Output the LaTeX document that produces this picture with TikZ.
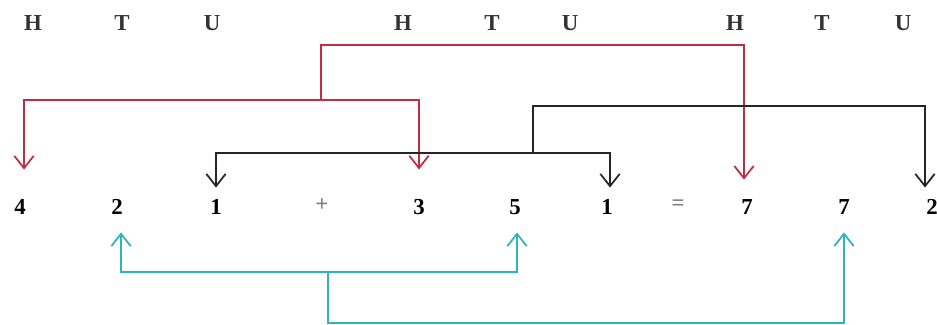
\documentclass[tikz,border=0pt]{standalone}
\usepackage{fontspec}
\setmainfont{Liberation Serif}
\usetikzlibrary{arrows.meta}
\definecolor{carryred}{RGB}{190,45,65}
\definecolor{carrycyan}{RGB}{45,180,190}

\begin{document}
\begin{tikzpicture}[>={Straight Barb[length=7pt,width=11pt]}, scale=1.0,
    place/.style={font=\fontsize{13}{15}\selectfont\bfseries, text=black!80},
    digit/.style={font=\fontsize{13}{15}\selectfont\bfseries, inner sep=0pt},
    sign/.style={font=\fontsize{13}{15}\selectfont\bfseries, text=black!50, inner sep=0pt},
    redline/.style={draw=carryred, line width=1pt},
    blackline/.style={draw=black!85, line width=1pt},
    cyanline/.style={draw=carrycyan, line width=1pt}]
  \useasboundingbox (0,0) rectangle (18.74,6.5);
  % place-value headings
  \node[place] (hdLH) at (0.66,6.04) {H};
  \node[place] (hdLT) at (2.44,6.04) {T};
  \node[place] (hdLU) at (4.24,6.04) {U};
  \node[place] (hdMH) at (8.06,6.04) {H};
  \node[place] (hdMT) at (9.84,6.04) {T};
  \node[place] (hdMU) at (11.40,6.04) {U};
  \node[place] (hdRH) at (14.70,6.04) {H};
  \node[place] (hdRT) at (16.44,6.04) {T};
  \node[place] (hdRU) at (18.06,6.04) {U};
  % the sum
  \node[digit] (lh) at (0.40,2.36) {4};
  \node[digit] (lt) at (2.34,2.36) {2};
  \node[digit] (lu) at (4.32,2.36) {1};
  \node[sign] (plus) at (6.44,2.40) {+};
  \node[digit] (mh) at (8.38,2.36) {3};
  \node[digit] (mt) at (10.30,2.36) {5};
  \node[digit] (mu) at (12.14,2.36) {1};
  \node[sign] (eq) at (13.56,2.40) {=};
  \node[digit] (rh) at (14.94,2.36) {7};
  \node[digit] (rt) at (16.88,2.36) {7};
  \node[digit] (ru) at (18.64,2.36) {2};
  % hundreds
  \coordinate (redtop) at (6.42,5.60);
  \coordinate (redmid) at (6.42,4.50);
  \draw[redline,<->,shorten <=0.59cm,shorten >=0.59cm] ([xshift=0.08cm]lh.north) |- (redmid) -| (mh.north);
  \draw[redline,->,shorten >=0.39cm] (redmid) -- (redtop) -| ([xshift=-0.06cm]rh.north);
  % units
  \coordinate (blktop) at (10.66,4.38);
  \coordinate (blkmid) at (10.66,3.44);
  \draw[blackline,<->,shorten <=0.23cm,shorten >=0.23cm] (lu.north) |- (blkmid) -| ([xshift=0.06cm]mu.north);
  \draw[blackline,->,shorten >=0.23cm] (blkmid) -- (blktop) -| ([xshift=-0.14cm]ru.north);
  % tens
  \coordinate (cyanmid) at (6.56,1.06);
  \coordinate (cyanbot) at (6.56,0.04);
  \draw[cyanline,<->,shorten <=0.35cm,shorten >=0.35cm] ([xshift=0.08cm]lt.south) |- (cyanmid) -| ([xshift=0.04cm]mt.south);
  \draw[cyanline,->,shorten >=0.35cm] (cyanmid) -- (cyanbot) -| (rt.south);
\end{tikzpicture}
\end{document}
